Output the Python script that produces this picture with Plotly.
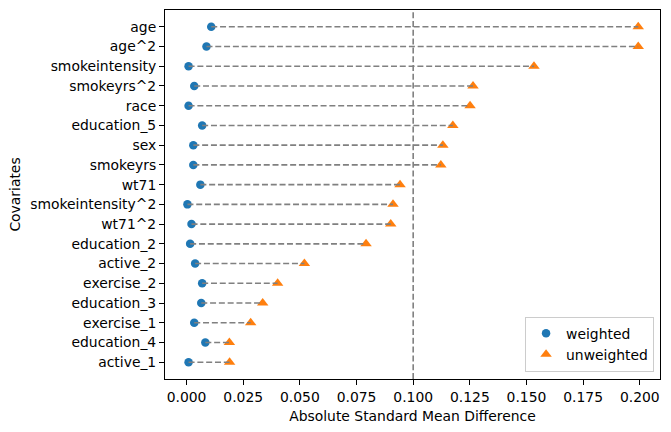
import plotly.graph_objects as go

covariates = ["age", "age^2", "smokeintensity", "smokeyrs^2", "race", "education_5",
              "sex", "smokeyrs", "wt71", "smokeintensity^2", "wt71^2", "education_2",
              "active_2", "exercise_2", "education_3", "exercise_1", "education_4", "active_1"]
weighted = [0.0109, 0.0088, 0.0009, 0.0034, 0.0009, 0.0069, 0.0030, 0.0030, 0.0061,
            0.0004, 0.0022, 0.0016, 0.0038, 0.0069, 0.0065, 0.0034, 0.0083, 0.0009]
unweighted = [0.1993, 0.1993, 0.1533, 0.1264, 0.1251, 0.1175, 0.1131, 0.1122, 0.0942,
              0.0911, 0.0901, 0.0792, 0.0520, 0.0402, 0.0336, 0.0283, 0.0189, 0.0190]
threshold = 0.1
xticks = [0.0, 0.025, 0.05, 0.075, 0.1, 0.125, 0.15, 0.175, 0.2]

FONT = "DejaVu Sans"
FS = 13.9

fig = go.Figure()
fig.add_trace(go.Scatter(x=weighted, y=covariates, mode="markers", name="weighted",
                         marker=dict(symbol="circle", size=8.5, color="#1f77b4")))
fig.add_trace(go.Scatter(x=unweighted, y=covariates, mode="markers", name="unweighted",
                         marker=dict(symbol="triangle-up", size=10, color="#ff7f0e")))

lx, ly = [], []
for c, w, u in zip(covariates, weighted, unweighted):
    lx += [w, u, None]
    ly += [c, c, None]
fig.add_trace(go.Scatter(x=lx, y=ly, mode="lines", showlegend=False, hoverinfo="skip",
                         line=dict(color="#808080", width=1.6, dash="6px,2.8px")))

fig.add_shape(type="line", x0=threshold, x1=threshold, y0=0, y1=1, xref="x", yref="paper",
              line=dict(color="#808080", width=1.6, dash="6px,2.8px"))

fig.update_layout(
    width=671, height=432,
    margin=dict(l=165, r=11, t=10, b=53),
    paper_bgcolor="white", plot_bgcolor="white",
    font=dict(family=FONT, size=FS, color="black"),
    xaxis=dict(range=[-0.0095, 0.2089], tickvals=xticks, tickformat=".3f",
               ticks="outside", ticklen=5, tickcolor="black", showgrid=False,
               zeroline=False, showline=True, linecolor="black", linewidth=1, mirror=True,
               title=dict(text="Absolute Standard Mean Difference", font=dict(size=FS), standoff=7)),
    yaxis=dict(type="category", categoryorder="array", categoryarray=covariates[::-1],
               range=[-0.85, 17.85], ticks="outside", ticklen=5, tickcolor="black",
               showgrid=False, zeroline=False, showline=True, linecolor="black",
               linewidth=1, mirror=True,
               title=dict(text="Covariates", font=dict(size=FS), standoff=6)),
    legend=dict(x=0.988, y=0.02, xanchor="right", yanchor="bottom",
                bordercolor="#cccccc", borderwidth=1, bgcolor="rgba(255,255,255,0.8)",
                font=dict(size=FS), itemwidth=30),
    showlegend=True,
)

fig.write_html("out.html")
